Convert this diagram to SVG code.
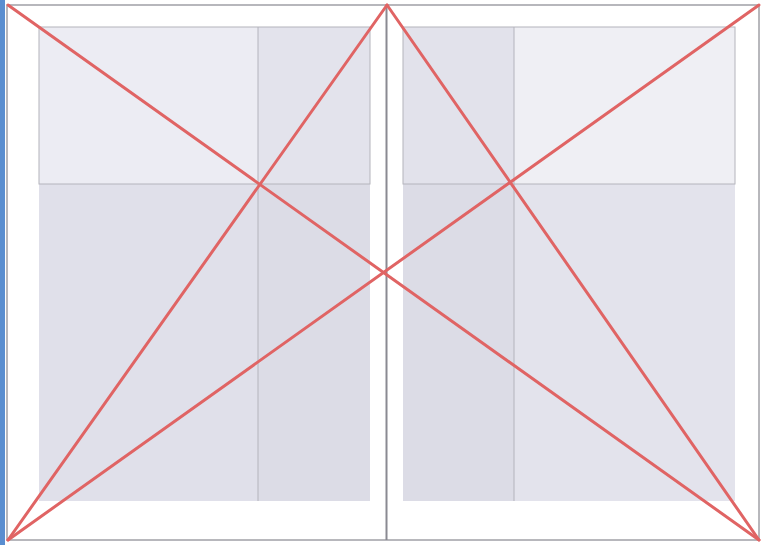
<svg xmlns="http://www.w3.org/2000/svg" width="763" height="545" viewBox="0 0 763 545">
<style>
.frame{fill:none;stroke:#a0a0a6;stroke-width:1.5}
.div{fill:none;stroke:#b4b4bc;stroke-width:1}
.red{fill:none;stroke:#e06464;stroke-width:3;stroke-linecap:round}
</style>
<rect x="0" y="0" width="763" height="545" fill="#ffffff"/>
<rect x="0" y="0" width="5" height="545" fill="#5a8ed0"/>
<g id="left-page">
<rect x="39" y="27" width="219" height="157" fill="#ececf3"/>
<rect x="258" y="27" width="112" height="157" fill="#e3e3ec"/>
<rect x="39" y="184" width="219" height="317" fill="#e0e0ea"/>
<rect x="258" y="184" width="112" height="317" fill="#dcdce6"/>
<line class="div" x1="258" y1="27" x2="258" y2="501"/>
<rect class="div" x="39" y="27" width="331" height="157"/>
</g>
<g id="right-page">
<rect x="403" y="27" width="111" height="157" fill="#e2e2eb"/>
<rect x="514" y="27" width="221" height="157" fill="#efeff4"/>
<rect x="403" y="184" width="111" height="317" fill="#dcdce6"/>
<rect x="514" y="184" width="221" height="317" fill="#e3e3ec"/>
<line class="div" x1="514" y1="27" x2="514" y2="501"/>
<rect class="div" x="403" y="27" width="332" height="157"/>
</g>
<g id="frame">
<rect class="frame" x="7" y="5" width="752" height="535"/>
<line x1="386.5" y1="5" x2="386.5" y2="540" stroke="#8a8a92" stroke-width="2"/>
</g>
<g id="connectors">
<line class="red" x1="8" y1="5" x2="759" y2="540"/>
<line class="red" x1="8" y1="540" x2="759" y2="5"/>
<line class="red" x1="8" y1="540" x2="387" y2="5"/>
<line class="red" x1="387" y1="5" x2="759" y2="540"/>
</g>
</svg>
